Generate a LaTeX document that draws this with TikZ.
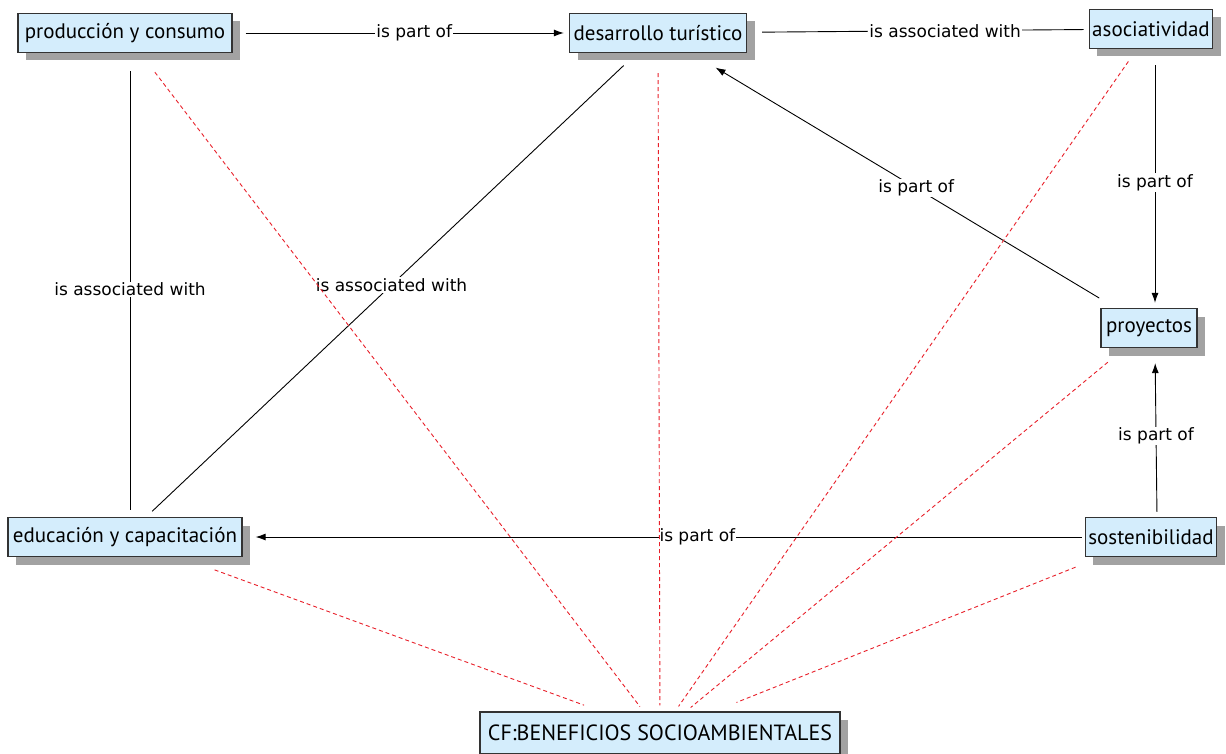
\documentclass[tikz,border=0pt]{standalone}
\usepackage{fontspec}
\setmainfont{PT Sans}
\newfontfamily\phrasefont{DejaVu Sans}
\usetikzlibrary{shadows,arrows.meta}
\definecolor{conceptfill}{HTML}{D4EDFC}
\definecolor{shadowgray}{HTML}{A2A2A2}
\definecolor{cfred}{HTML}{E8202A}

\begin{document}
\begin{tikzpicture}[x=1pt, y=-1pt, concept/.style={rectangle, draw=black!80, line width=1.3pt, fill=conceptfill, minimum height=39pt, inner xsep=3pt, font=\fontsize{21}{24}\selectfont, general shadow={fill=shadowgray, shadow xshift=8pt, shadow yshift=-8pt}}, phrase/.style={fill=white, inner sep=1pt, font=\phrasefont\fontsize{17}{19}\selectfont}, link/.style={line width=0.9pt, -{Latex[length=10pt, width=7pt]}}, cfline/.style={draw=cfred, line width=0.9pt, dash pattern=on 4pt off 3pt, shorten <=20pt, shorten >=6pt}]
      \useasboundingbox (0,0) rectangle (1226,754);

      \node [concept, minimum width=214pt] (prod) at (125,33) {producción y consumo};

      \node [concept, minimum width=177pt] (desa) at (658,33) {desarrollo turístico};

      \node [concept, minimum width=123pt] (asoc) at (1151,29) {asociatividad};

      \node [concept, minimum width=96pt] (proy) at (1149,328) {proyectos};

      \node [concept, minimum width=234pt] (edu) at (125,537) {educación y capacitación};

      \node [concept, minimum width=130pt] (sost) at (1151,537) {sostenibilidad};

      \node [concept, minimum width=360pt, minimum height=42pt, font=\fontsize{22}{25}\selectfont] (cf) at (660,733) {CF:BENEFICIOS SOCIOAMBIENTALES};

      \path[link] (prod) edge[shorten <=13pt, shorten >=5pt] node[phrase, pos=0.54] {is part of} (desa);

      \path[link, -] (desa) edge[shorten <=15pt, shorten >=5pt] node[phrase, pos=0.58] {is associated with} (asoc);

      \path[link] ([xshift=4pt]asoc.south) edge[shorten <=16pt, shorten >=5pt] node[phrase, pos=0.515] {is part of} ([xshift=6pt]proy.north);

      \path[link] (proy) edge[shorten <=19pt, shorten >=28pt] node[phrase, pos=0.47] {is part of} (desa);

      \path[link] ([xshift=6pt]sost.north) edge[shorten <=5pt, shorten >=15pt] node[phrase, pos=0.48] {is part of} ([xshift=6pt]proy.south);

      \path[link] (sost) edge[shorten <=3pt, shorten >=13pt] node[phrase, pos=0.46] {is part of} (edu);

      \path[link, -] ([xshift=5pt]prod.south) edge[shorten <=18pt, shorten >=7pt] node[phrase, pos=0.51] {is associated with} ([xshift=5pt]edu.north);

      \path[link, -] (desa) edge[shorten <=18pt, shorten >=8pt] node[phrase, pos=0.5] {is associated with} (edu);

      \path[cfline] (prod) edge[shorten <=24pt] (cf);

      \path[cfline] (desa) edge (cf);

      \path[cfline] (asoc) edge[shorten <=15pt] (cf);

      \path[cfline] (proy) edge[shorten <=22pt] (cf);

      \path[cfline] (edu) edge[shorten <=37pt, shorten >=18pt] (cf);

      \path[cfline] (sost) edge[shorten <=27pt, shorten >=24pt] (cf);
    \end{tikzpicture}
\end{document}
